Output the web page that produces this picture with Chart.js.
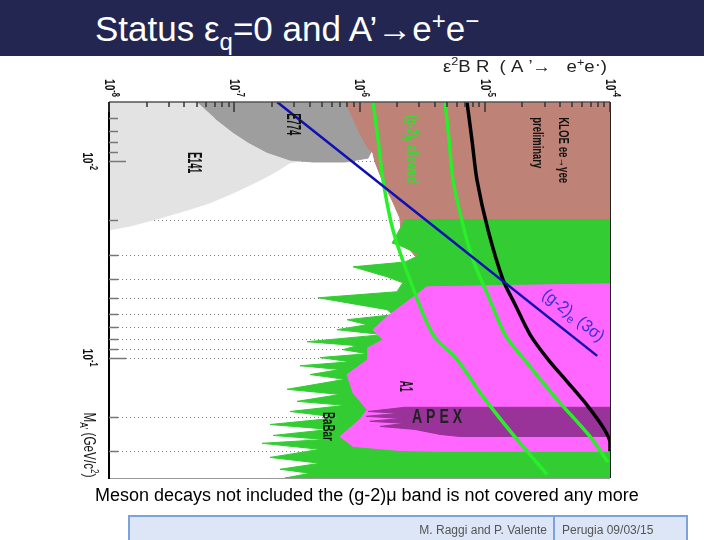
<!DOCTYPE html>
<html>
<head>
<meta charset="utf-8">
<script src="https://cdn.jsdelivr.net/npm/chart.js@4.4.1/dist/chart.umd.min.js"></script>
<style>
  body { margin: 0; background: #fff; font-family: "Liberation Sans", Arial, sans-serif; }
  #wrap { position: relative; width: 720px; height: 540px; overflow: hidden; }
  #c { position: absolute; left: 0; top: 0; }
  #hdr { position: absolute; left: 0; top: 0; width: 704px; height: 56px; background: #232650; }
  #title { position: absolute; left: 95px; top: 9px; color: #fff; font-size: 35px; line-height: 40px; white-space: nowrap; }
  #title sub { font-size: 24px; vertical-align: -9px; line-height: 0; }
  #title sup { font-size: 24px; vertical-align: 12px; line-height: 0; }
  #caption { position: absolute; left: 95px; top: 485px; font-size: 18px; line-height: 20px; color: #000; white-space: nowrap; }
  #foot { position: absolute; left: 128px; top: 515px; width: 556px; height: 26px; background: #dce6f6; border: 2px solid #7ba3d9; }
  #foot .sep { position: absolute; left: 423px; top: 0; width: 2px; height: 26px; background: #7ba3d9; }
  #foot .who { position: absolute; right: 139px; top: 6px; font-size: 12px; color: #555; }
  #foot .when { position: absolute; left: 432px; top: 6px; font-size: 12px; color: #555; }
</style>
</head>
<body>
<div id="wrap">
  <canvas id="c" width="720" height="540"></canvas>
  <div id="hdr"><div id="title">Status ε<sub>q</sub>=0 and A’→e<sup>+</sup>e<sup>−</sup></div></div>
  <div id="caption">Meson decays not included the (g-2)μ band is not covered any more</div>
  <div id="foot"><span class="who">M. Raggi and P. Valente</span><div class="sep"></div><span class="when">Perugia 09/03/15</span></div>
</div>
<script>
// x = eps^2 BR(A' -> e+e-), y = M_A' (GeV/c^2)

// exclusion regions (closed outlines)
const e141X = [1e-8, 1.34e-7, 3.35e-7, 3.35e-7, 2.79e-7, 2.11e-7, 1.61e-7, 1.01e-7, 6.40e-8, 4.04e-8, 2.55e-8, 1.47e-8, 1e-8];
const e141Y = [5e-3, 5e-3, 7.64e-3, 1.0e-2, 1.02e-2, 1.14e-2, 1.25e-2, 1.44e-2, 1.63e-2, 1.79e-2, 1.95e-2, 2.14e-2, 2.24e-2];

const e774X = [5.04e-8, 1.01e-6, 1.26e-6, 1.17e-6, 7.66e-7, 4.26e-7, 2.79e-7, 1.82e-7, 1.29e-7, 9.77e-8, 7.02e-8];
const e774Y = [5e-3, 5e-3, 8.79e-3, 9.65e-3, 1.01e-2, 1.01e-2, 9.88e-3, 9.0e-3, 8.01e-3, 7.13e-3, 6.05e-3];

const kloeX = [7.66e-7, 1e-4, 1e-4, 3.04e-6, 2.18e-6, 2.10e-6, 1.85e-6, 1.54e-6, 1.33e-6, 1.28e-6, 1.17e-6, 9.55e-7];
const kloeY = [5e-3, 5e-3, 3.26e-2, 3.26e-2, 2.52e-2, 1.95e-2, 1.62e-2, 1.28e-2, 1.01e-2, 9.11e-3, 8.59e-3, 6.80e-3];

const babarX = [1e-4, 2.31e-6, 1.82e-6, 2.22e-6, 3.04e-6, 2.31e-6, 8.87e-7, 1.66e-6, 2.22e-6, 1.99e-6,
  4.67e-7, 1.66e-6, 1.85e-6, 7.95e-7, 1.15e-6, 6.61e-7, 1.54e-6, 3.81e-7, 9.55e-7, 7.38e-7,
  1.15e-6, 4.84e-7, 8.40e-7, 3.35e-7, 6.99e-7, 4.03e-7, 7.66e-7, 2.64e-7, 6.99e-7, 3.17e-7,
  7.66e-7, 2.79e-7, 6.99e-7, 1.93e-7, 5.81e-7, 2.04e-7, 5.30e-7, 1.67e-7, 4.84e-7, 1.93e-7,
  4.84e-7, 2.32e-7, 4.03e-7, 2.54e-7, 1e-4];
const babarY = [1.99e-2, 1.99e-2, 2.61e-2, 2.73e-2, 3.0e-2, 3.26e-2, 3.45e-2, 3.88e-2, 4.16e-2, 4.62e-2,
  4.96e-2, 5.70e-2, 6.05e-2, 6.41e-2, 6.80e-2, 7.21e-2, 7.64e-2, 8.30e-2, 8.69e-2, 9.11e-2,
  9.55e-2, 0.100, 0.105, 0.110, 0.115, 0.122, 0.129, 0.145, 0.154, 0.167,
  0.175, 0.188, 0.202, 0.219, 0.232, 0.249, 0.261, 0.273, 0.293, 0.322,
  0.345, 0.370, 0.388, 0.41, 0.41];

const a1X = [1e-4, 3.46e-6, 2.39e-6, 1.66e-6, 1.28e-6, 1.54e-6, 1.17e-6, 1.17e-6, 7.95e-7, 8.87e-7, 1.15e-6, 1.01e-6, 6.99e-7, 8.87e-7, 2.10e-6, 4.39e-6, 1e-4];
const a1Y = [4.21e-2, 4.36e-2, 5.20e-2, 6.19e-2, 7.21e-2, 8.11e-2, 8.90e-2, 0.102, 0.122, 0.151, 0.184, 0.206, 0.252, 0.283, 0.297, 0.300, 0.300];

const apexX = [1e-4, 2.31e-6, 1.17e-6, 2.10e-6, 1.13e-6, 2.18e-6, 1.21e-6, 2.31e-6, 1.46e-6, 2.77e-6, 4.39e-6, 6.34e-6, 1e-4];
const apexY = [0.179, 0.179, 0.188, 0.192, 0.199, 0.204, 0.211, 0.216, 0.224, 0.232, 0.246, 0.252, 0.252];

// curves
const gm2eX = [2.2e-7, 7.9e-5];
const gm2eY = [5e-3, 0.098];
const gm2muLoX = [1.28e-6, 1.41e-6, 1.54e-6, 1.85e-6, 2.53e-6, 3.86e-6, 6.00e-6, 9.68e-6, 1.81e-5, 3.14e-5];
const gm2muLoY = [5e-3, 7.82e-3, 1.248e-2, 2.24e-2, 4.02e-2, 7.63e-2, 0.102, 0.158, 0.261, 0.393];
const gm2muHiX = [4.82e-6, 5.19e-6, 5.58e-6, 6.70e-6, 8.05e-6, 1.10e-5, 1.45e-5, 2.17e-5, 3.77e-5, 6.92e-5, 9.64e-5];
const gm2muHiY = [5e-3, 7.82e-3, 1.248e-2, 2.11e-2, 3.18e-2, 5.08e-2, 7.63e-2, 0.106, 0.163, 0.252, 0.341];
const kloeLineX = [7.21e-6, 7.91e-6, 8.67e-6, 1.062e-5, 1.40e-5, 1.75e-5, 2.30e-5, 3.20e-5, 4.62e-5, 6.67e-5, 8.79e-5, 1e-4, 1e-4];
const kloeLineY = [5e-3, 7.82e-3, 1.248e-2, 2.24e-2, 4.02e-2, 5.38e-2, 7.63e-2, 0.102, 0.134, 0.177, 0.226, 0.267, 0.30];

// axes
const xDecades = [1e-8, 1e-7, 1e-6, 1e-5, 1e-4];
const xExp = ['-8', '-7', '-6', '-5', '-4'];
const yMajor = [1e-2, 1e-1];
const yExp = ['-2', '-1'];
const yMinor = [6e-3, 7e-3, 8e-3, 9e-3, 2e-2, 3e-2, 4e-2, 5e-2, 6e-2, 7e-2, 8e-2, 9e-2, 2e-1, 3e-1];

const FONT = '"Liberation Sans", Arial, sans-serif';

// labels on the plot (rotated like the original figure)
const regionLabels = [
  { parts: [['E141', 'bold 20px']], x: 4.77e-8, y: 1.02e-2, len: 21, color: '#111' },
  { parts: [['E774', 'bold 20px']], x: 2.94e-7, y: 6.49e-3, len: 22, color: '#111' },
  { parts: [['(g-2)', 'bold 17px'], ['μ', 'bold 12px', 4], [' allowed', 'bold 17px']], x: 2.62e-6, y: 8.69e-3, len: 68, color: '#33dd33' },
  { parts: [['KLOE ee→γee', 'bold 14px']], x: 4.21e-5, y: 8.79e-3, len: 66, color: '#111' },
  { parts: [['preliminary', 'bold 14px']], x: 2.61e-5, y: 8.06e-3, len: 51, color: '#111' },
  { parts: [['A1', 'bold 19px']], x: 2.31e-6, y: 0.140, len: 11, color: '#111' },
  { parts: [['BaBar', 'bold 17px']], x: 5.61e-7, y: 0.224, len: 29, color: '#111' }
];

function pts(xs, ys) {
  return xs.map((v, i) => ({ x: v, y: ys[i] }));
}

function area(label, xs, ys, color, order) {
  return { label, data: pts(xs, ys), fill: 'shape', backgroundColor: color, borderColor: color,
    borderWidth: 1, pointRadius: 0, order };
}

function curve(label, xs, ys, color, width, order) {
  return { label, data: pts(xs, ys), fill: false, borderColor: color, borderWidth: width,
    pointRadius: 0, tension: 0.3, order };
}

// text made of pieces [text, font, dy], squeezed to a given length
function drawParts(ctx, parts, cx, cy, angle, len, color) {
  ctx.save();
  ctx.translate(cx, cy);
  ctx.rotate(angle);
  let w = 0;
  const widths = parts.map(p => {
    ctx.font = p[1] + ' ' + FONT;
    const m = ctx.measureText(p[0]).width;
    w += m;
    return m;
  });
  ctx.scale(len ? len / w : 1, 1);
  ctx.fillStyle = color;
  ctx.textBaseline = 'middle';
  ctx.textAlign = 'left';
  let px = -w / 2;
  parts.forEach((p, i) => {
    ctx.font = p[1] + ' ' + FONT;
    ctx.fillText(p[0], px, p[2] || 0);
    px += widths[i];
  });
  ctx.restore();
}

const axesPlugin = {
  id: 'axesPlugin',
  beforeDatasetsDraw(chart) {
    const { ctx, chartArea: a, scales: { y } } = chart;
    ctx.save();
    ctx.strokeStyle = '#7a7a7a';
    ctx.lineWidth = 1;
    ctx.setLineDash([1, 3]);
    yMinor.concat(yMajor).forEach(v => {
      const py = Math.round(y.getPixelForValue(v)) + 0.5;
      ctx.beginPath();
      ctx.moveTo(a.left + 9, py);
      ctx.lineTo(a.right, py);
      ctx.stroke();
    });
    ctx.restore();
  },
  afterDatasetsDraw(chart) {
    const { ctx, chartArea: a, scales: { x, y } } = chart;
    ctx.save();

    // frame
    ctx.strokeStyle = '#999';
    ctx.lineWidth = 1;
    ctx.beginPath();
    ctx.moveTo(a.left, a.bottom + 0.5);
    ctx.lineTo(a.right, a.bottom + 0.5);
    ctx.stroke();
    ctx.strokeStyle = '#555';
    ctx.lineWidth = 1.5;
    ctx.beginPath();
    ctx.moveTo(a.left, a.top);
    ctx.lineTo(a.right, a.top);
    ctx.stroke();
    ctx.strokeStyle = '#222';
    ctx.lineWidth = 1;
    ctx.beginPath();
    ctx.moveTo(a.right + 0.5, a.top);
    ctx.lineTo(a.right + 0.5, a.bottom);
    ctx.stroke();
    ctx.strokeStyle = '#000';
    ctx.lineWidth = 2;
    ctx.beginPath();
    ctx.moveTo(a.left, a.top);
    ctx.lineTo(a.left, a.bottom + 1);
    ctx.stroke();

    // top ticks
    ctx.strokeStyle = '#333';
    ctx.lineWidth = 1.5;
    xDecades.forEach((d, i) => {
      for (let k = 1; k <= 9; k++) {
        const v = d * k;
        if (v > 1e-4 || (i === xDecades.length - 1 && k > 1)) continue;
        const px = Math.round(x.getPixelForValue(v));
        ctx.beginPath();
        ctx.moveTo(px, a.top);
        ctx.lineTo(px, a.top + (k === 1 ? 10 : 5));
        ctx.stroke();
      }
    });

    // left ticks
    ctx.strokeStyle = '#777';
    yMinor.forEach(v => {
      const py = Math.round(y.getPixelForValue(v)) + 0.5;
      ctx.beginPath();
      ctx.moveTo(a.left, py);
      ctx.lineTo(a.left + 9, py);
      ctx.stroke();
    });
    yMajor.forEach(v => {
      const py = Math.round(y.getPixelForValue(v)) + 0.5;
      ctx.beginPath();
      ctx.moveTo(a.left, py);
      ctx.lineTo(a.left + 17, py);
      ctx.stroke();
    });

    const cw = Math.PI / 2;
    // tick labels
    xDecades.forEach((v, i) => {
      drawParts(ctx, [['10', 'bold 15px'], [xExp[i], 'bold 11px', -6]],
        x.getPixelForValue(v), a.top - 14, cw, 18, '#111');
    });
    yMajor.forEach((v, i) => {
      drawParts(ctx, [['10', 'bold 15px'], [yExp[i], 'bold 11px', -6]],
        a.left - 22, y.getPixelForValue(v), cw, 18, '#111');
    });

    // axis titles
    drawParts(ctx, [['M', '16px'], ['A\'', '11px', 5], [' (GeV/c', '16px'], ['2', '11px', -6], [')', '16px']],
      a.left - 21, a.bottom - 33, cw, 65, '#111');
    drawParts(ctx, [['ε', '16px'], ['2', '11px', -6], ['B R  ( A ’→   e', '16px'], ['+', '11px', -5],
      ['e', '16px'], ['·', '16px', -2], [')', '16px']],
      a.right - 85, a.top - 34, 0, 164, '#222');

    // region labels
    regionLabels.forEach(l => {
      drawParts(ctx, l.parts, x.getPixelForValue(l.x), y.getPixelForValue(l.y), cw, l.len, l.color);
    });

    // APEX is written upright
    drawParts(ctx, [['A P E X', 'bold 20px']], x.getPixelForValue(4.16e-6), y.getPixelForValue(0.202), 0, 50, '#222');

    // (g-2)e label runs along the blue line
    const ang = Math.atan2(y.getPixelForValue(gm2eY[1]) - y.getPixelForValue(gm2eY[0]),
      x.getPixelForValue(gm2eX[1]) - x.getPixelForValue(gm2eX[0]));
    drawParts(ctx, [['(g-2)', '17px'], ['e', '12px', 5], [' (3σ)', '17px']],
      x.getPixelForValue(5.07e-5), y.getPixelForValue(6.12e-2), ang, 74, '#3a2fd8');

    ctx.restore();
  }
};

new Chart(document.getElementById('c'), {
  type: 'line',
  data: {
    datasets: [
      curve('(g-2)e 3σ', gm2eX, gm2eY, '#1010b4', 2.5, 1),
      curve('KLOE limit', kloeLineX, kloeLineY, '#000', 3.5, 2),
      curve('(g-2)μ low', gm2muLoX, gm2muLoY, '#2aee2a', 3.5, 3),
      curve('(g-2)μ high', gm2muHiX, gm2muHiY, '#2aee2a', 3.5, 3),
      area('APEX', apexX, apexY, '#993399', 4),
      area('A1', a1X, a1Y, '#ff66ff', 5),
      area('BaBar', babarX, babarY, '#33cc33', 6),
      area('KLOE', kloeX, kloeY, '#bf8276', 7),
      area('E774', e774X, e774Y, '#9e9e9e', 8),
      area('E141', e141X, e141Y, '#e3e3e3', 9)
    ]
  },
  options: {
    responsive: false,
    animation: false,
    layout: { padding: { left: 109, top: 102, right: 110, bottom: 62 } },
    scales: {
      x: { type: 'logarithmic', position: 'top', min: 1e-8, max: 1e-4, display: false },
      y: { type: 'logarithmic', reverse: true, min: 5e-3, max: 0.41, display: false }
    },
    plugins: {
      legend: { display: false },
      tooltip: { enabled: false }
    }
  },
  plugins: [axesPlugin]
});
</script>
</body>
</html>
